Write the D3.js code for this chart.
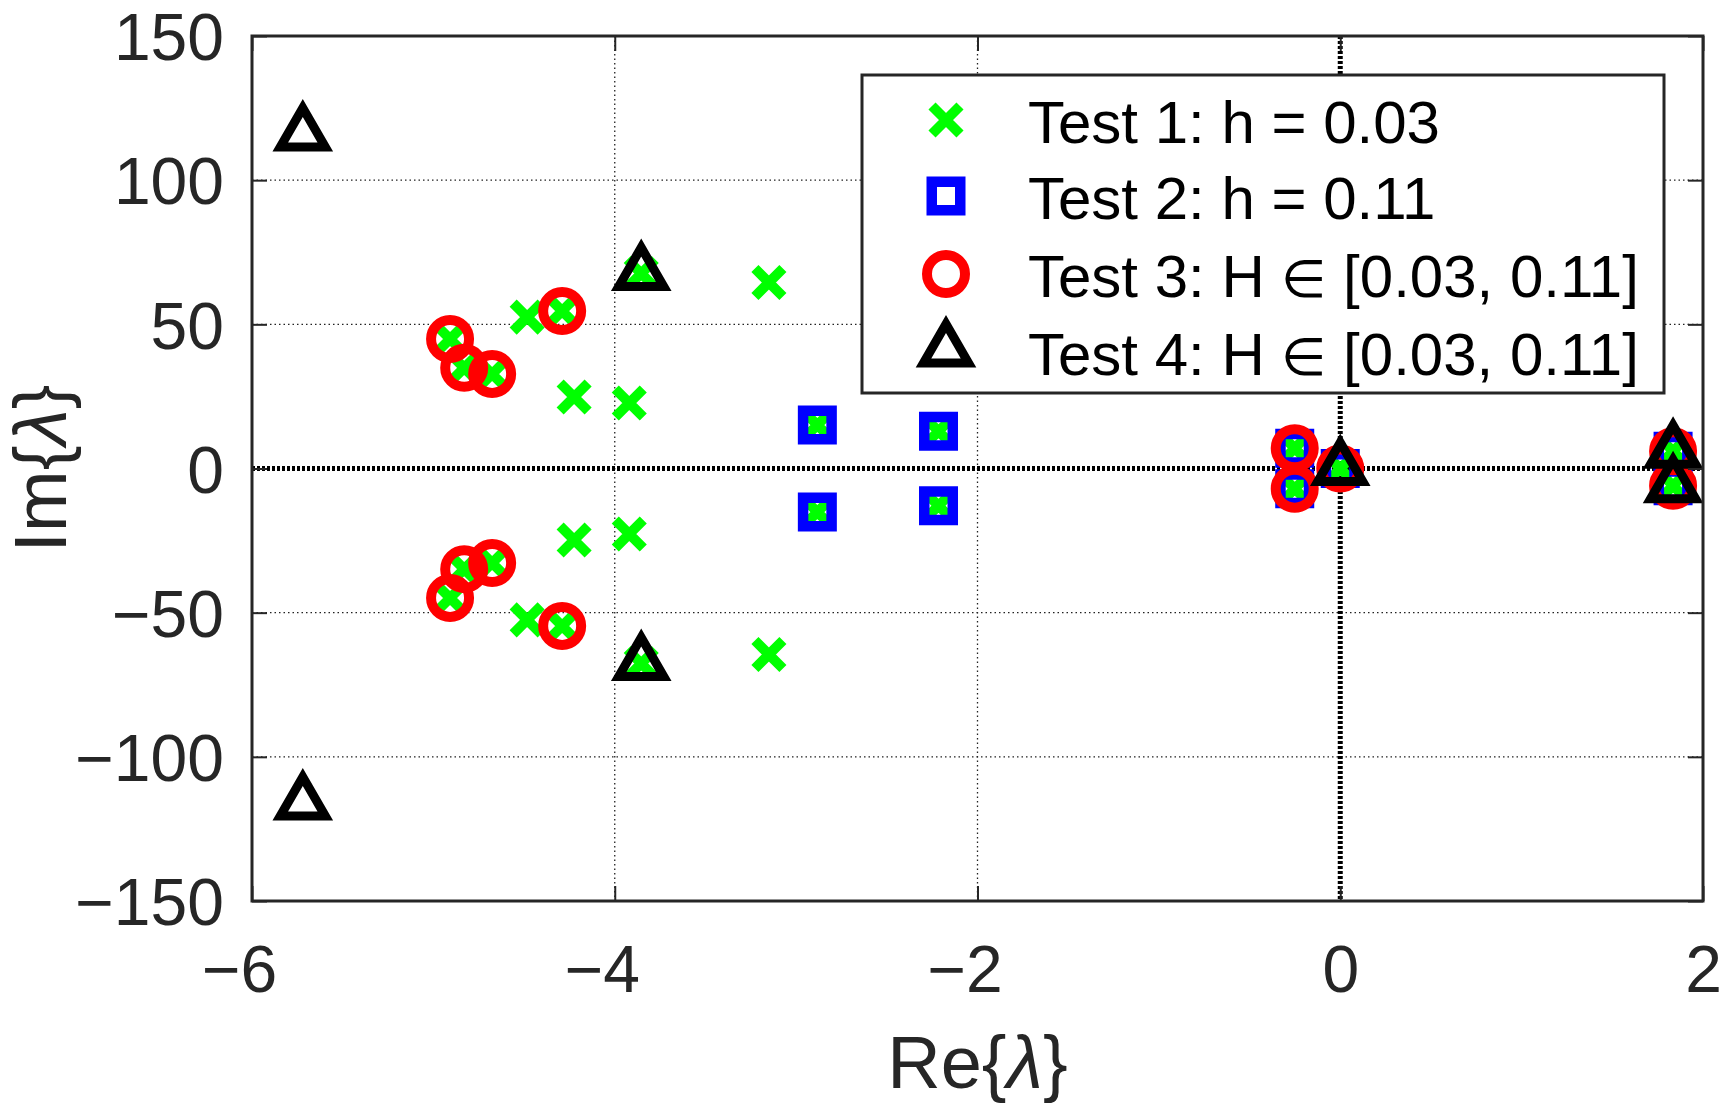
<!DOCTYPE html>
<html>
<head>
<meta charset="utf-8">
<script src="https://cdn.jsdelivr.net/npm/d3@7/dist/d3.min.js"></script>
<style>
  html, body { margin: 0; padding: 0; background: #fff; }
  svg { display: block; }
  text { font-family: "Liberation Sans", Arial, Helvetica, sans-serif; }
</style>
</head>
<body>
<svg id="chart" width="1728" height="1113"></svg>
<script>
// ---------------- data ----------------
const xTicks = [-6, -4, -2, 0, 2];
const yTicks = [-150, -100, -50, 0, 50, 100, 150];

// Test 1: h = 0.03 (green x)
const test1Re = [-4.908, -4.908, -4.830, -4.830, -4.676, -4.676, -4.483, -4.483, -4.290, -4.290,
                 -4.224, -4.224, -3.920, -3.920, -3.854, -3.854, -3.150, -3.150, -2.883, -2.883,
                 -2.215, -2.215, -0.251, -0.251, 0.0, 1.835, 1.835];
const test1Im = [44.9, -44.9, 34.9, -34.9, 32.8, -32.8, 52.5, -52.5, 54.6, -54.6,
                 24.8, -24.8, 22.7, -22.7, 67.6, -67.6, 64.5, -64.5, 15.1, -15.1,
                 12.9, -12.9, 7.0, -7.0, 0.0, 6.0, -6.0];
// Test 2: h = 0.11 (blue squares)
const test2Re = [-2.883, -2.883, -2.215, -2.215, -0.251, -0.251, 0.0, 1.835, 1.835];
const test2Im = [15.1, -15.1, 12.9, -12.9, 7.0, -7.0, 0.0, 6.0, -6.0];
// Test 3: H in [0.03, 0.11] (red circles)
const test3Re = [-4.908, -4.908, -4.830, -4.830, -4.676, -4.676, -4.290, -4.290, -0.251, -0.251, 0.0, 1.835, 1.835];
const test3Im = [44.9, -44.9, 34.9, -34.9, 32.8, -32.8, 54.6, -54.6, 7.0, -7.0, 0.0, 6.0, -6.0];
// Test 4: H in [0.03, 0.11] (black triangles)
const test4Re = [-5.720, -5.720, -3.854, -3.854, 0.0, 1.835, 1.835];
const test4Im = [116.0, -116.0, 67.6, -67.6, 0.0, 6.0, -6.0];

const legendPrefixes = ["Test 1: h = 0.03", "Test 2: h = 0.11", "Test 3: H ", "Test 4: H "];
const legendSuffixes = ["", "", " [0.03, 0.11]", " [0.03, 0.11]"];
const seriesKinds = ["x", "square", "circle", "triangle"];

// ---------------- layout ----------------
const L = 252, R = 1703, T = 36, B = 901;
const axisColor = "#262626";
const svg = d3.select("#chart");

const x = d3.scaleLinear().domain([-6, 2]).range([L, R]);
const y = d3.scaleLinear().domain([-150, 150]).range([B, T]);

// marker styles
const styles = {
  x:        { color: "#00ff00", width: 10 },
  square:   { color: "#0000ff", width: 10.5 },
  circle:   { color: "#ff0000", width: 10 },
  triangle: { color: "#000000", width: 9 }
};
function markerPath(kind) {
  if (kind === "x") { const a = 14; return `M${-a},${-a}L${a},${a}M${-a},${a}L${a},${-a}`; }
  if (kind === "square") { const h = 14.25; return `M${-h},${-h}H${h}V${h}H${-h}Z`; }
  if (kind === "circle") { const r = 19; return `M${r},0A${r},${r} 0 1 1 ${-r},0A${r},${r} 0 1 1 ${r},0Z`; }
  const Rt = 26; return `M0,${-Rt}L${Rt * 0.866},${Rt / 2}L${-Rt * 0.866},${Rt / 2}Z`;
}
function drawMarkers(g, xs, ys, kind) {
  const st = styles[kind];
  const pts = xs.map((v, i) => [v, ys[i]]);
  g.selectAll(null).data(pts).enter().append("path")
    .attr("d", markerPath(kind))
    .attr("transform", d => `translate(${x(d[0])},${y(d[1])})`)
    .attr("fill", "none")
    .attr("stroke", st.color)
    .attr("stroke-width", st.width)
    .attr("stroke-linejoin", "miter")
    .attr("stroke-miterlimit", 10)
    .attr("stroke-linecap", "butt");
}

// ---------------- grid ----------------
const grid = svg.append("g");
grid.selectAll(null).data(xTicks.filter(v => v !== 0 && v > -6 && v < 2)).enter().append("line")
  .attr("x1", d => x(d)).attr("x2", d => x(d)).attr("y1", T).attr("y2", B)
  .attr("stroke", "#222").attr("stroke-width", 1.3).attr("stroke-dasharray", "1.5,3");
grid.selectAll(null).data(yTicks.filter(v => v !== 0 && v > -150 && v < 150)).enter().append("line")
  .attr("y1", d => y(d)).attr("y2", d => y(d)).attr("x1", L).attr("x2", R)
  .attr("stroke", "#222").attr("stroke-width", 1.3).attr("stroke-dasharray", "1.5,3");

// zero lines (thick dotted)
grid.append("line").attr("x1", L).attr("x2", R).attr("y1", y(0)).attr("y2", y(0))
  .attr("stroke", "#000").attr("stroke-width", 5).attr("stroke-dasharray", "3,2");
grid.append("line").attr("x1", x(0)).attr("x2", x(0)).attr("y1", T).attr("y2", B)
  .attr("stroke", "#000").attr("stroke-width", 5).attr("stroke-dasharray", "3,2");

// ---------------- data marks ----------------
const marks = svg.append("g");
drawMarkers(marks.append("g"), test1Re, test1Im, "x");
drawMarkers(marks.append("g"), test2Re, test2Im, "square");
drawMarkers(marks.append("g"), test3Re, test3Im, "circle");
drawMarkers(marks.append("g"), test4Re, test4Im, "triangle");

// ---------------- axes ----------------
const fmt = d => (d < 0 ? "\u2212" + Math.abs(d) : String(d));
const tickLen = 15;

const gB = svg.append("g").attr("transform", `translate(0,${B})`)
  .call(d3.axisBottom(x).tickValues(xTicks).tickSize(-tickLen).tickPadding(44).tickFormat(fmt));
gB.selectAll("text").attr("dx", d => (d < 0 ? -13 : 0));
const gL = svg.append("g").attr("transform", `translate(${L},0)`)
  .call(d3.axisLeft(y).tickValues(yTicks).tickSize(-tickLen).tickPadding(28).tickFormat(fmt));
gL.selectAll("text").attr("dy", "0.36em");
const gT = svg.append("g").attr("transform", `translate(0,${T})`)
  .call(d3.axisTop(x).tickValues(xTicks).tickSize(-tickLen).tickFormat(""));
const gR = svg.append("g").attr("transform", `translate(${R},0)`)
  .call(d3.axisRight(y).tickValues(yTicks).tickSize(-tickLen).tickFormat(""));

[gB, gL, gT, gR].forEach(g => {
  g.select(".domain").remove();
  g.selectAll(".tick line").attr("stroke", axisColor).attr("stroke-width", 2);
  g.selectAll("text").attr("fill", axisColor).style("font-size", "66px")
    .style("font-family", '"Liberation Sans", Arial, sans-serif');
});

svg.append("rect").attr("x", L).attr("y", T).attr("width", R - L).attr("height", B - T)
  .attr("fill", "none").attr("stroke", axisColor).attr("stroke-width", 3);

// axis labels
const xl = svg.append("text").attr("x", x(-2)).attr("y", 1088).attr("text-anchor", "middle")
  .attr("fill", axisColor).style("font-size", "74px");
xl.append("tspan").text("Re{");
xl.append("tspan").style("font-style", "italic").text("\u03bb");
xl.append("tspan").text("}");

const yl = svg.append("text").attr("transform", `translate(66,${y(0)}) rotate(-90)`).attr("text-anchor", "middle")
  .attr("fill", axisColor).style("font-size", "74px");
yl.append("tspan").text("Im{");
yl.append("tspan").style("font-style", "italic").text("\u03bb");
yl.append("tspan").text("}");

// ---------------- legend ----------------
const lg = svg.append("g");
lg.append("rect").attr("x", 862).attr("y", 75).attr("width", 802).attr("height", 318)
  .attr("fill", "#fff").attr("stroke", axisColor).attr("stroke-width", 3);
const baselines = [143, 219, 297, 375];
legendPrefixes.forEach((lab, i) => {
  const kind = seriesKinds[i];
  const st = styles[kind];
  lg.append("path").attr("d", markerPath(kind))
    .attr("transform", `translate(946,${baselines[i] - (kind === "triangle" ? 25 : 23)})`)
    .attr("fill", "none").attr("stroke", st.color).attr("stroke-width", st.width)
    .attr("stroke-linejoin", "miter").attr("stroke-miterlimit", 10);
  const t = lg.append("text").attr("x", 1028).attr("y", baselines[i]).attr("fill", "#000")
    .style("font-size", "60px");
  t.append("tspan").text(lab);
  if (legendSuffixes[i]) {
    t.append("tspan").style("font-size", "52px").text("\u2208");
    t.append("tspan").text(legendSuffixes[i]);
  }
});
</script>
</body>
</html>
